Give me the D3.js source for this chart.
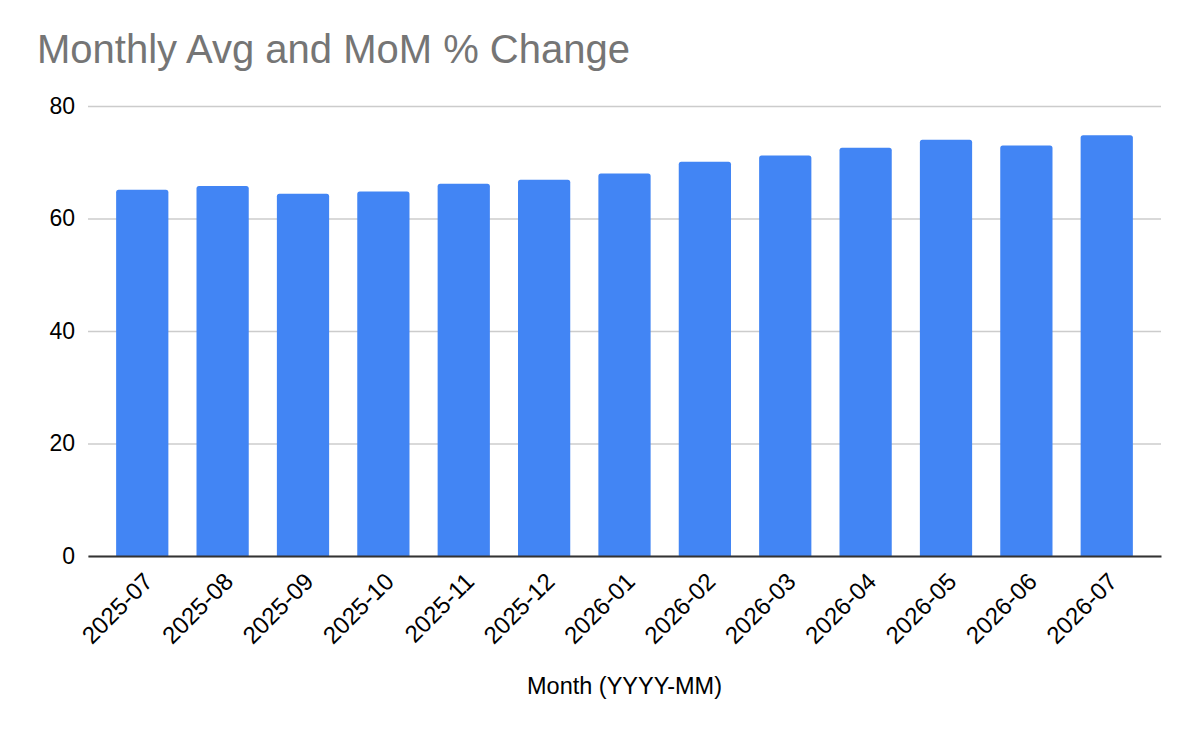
<!DOCTYPE html>
<html lang="en">
<head>
    <meta charset="UTF-8">
    <title>Monthly Avg and MoM % Change</title>
    <script src="https://d3js.org/d3.v7.min.js"></script>
    <style>
        body {
            margin: 0;
            background: #fff;
        }
        svg {
            font-family: "Liberation Sans", Arial, sans-serif;
        }
        .chart-title {
            font-size: 40px;
            fill: #757575;
        }
        .tick-label {
            font-size: 23px;
            fill: #000;
        }
        .x-label {
            font-size: 24px;
            fill: #000;
        }
        .axis-title {
            font-size: 23.5px;
            fill: #000;
        }
        .bar {
            fill: #4285f4;
        }
    </style>
</head>
<body>
    <div id="chart"></div>

    <script>
        // Data
        const months = ["2025-07", "2025-08", "2025-09", "2025-10", "2025-11", "2025-12",
                        "2026-01", "2026-02", "2026-03", "2026-04", "2026-05", "2026-06", "2026-07"];
        const monthlyAvg = [65.1, 65.8, 64.4, 64.8, 66.2, 66.9, 68.0, 70.1, 71.2, 72.6, 74.0, 73.0, 74.8];
        const yTicks = [0, 20, 40, 60, 80];

        const width = 1197, height = 729;
        const plot = { left: 88, right: 1161, top: 106, bottom: 556 };

        const svg = d3.select("#chart")
            .append("svg")
            .attr("width", width)
            .attr("height", height);

        // Title
        svg.append("text")
            .attr("class", "chart-title")
            .attr("x", 37)
            .attr("y", 63)
            .text("Monthly Avg and MoM % Change");

        const x = d3.scaleBand()
            .domain(months)
            .range([plot.left, plot.right])
            .paddingInner(0.35)
            .paddingOuter(0.35);

        const y = d3.scaleLinear()
            .domain([0, 80])
            .range([plot.bottom, plot.top]);

        // Gridlines + y labels
        const yAxis = svg.append("g")
            .attr("transform", `translate(${plot.left},0)`)
            .call(d3.axisLeft(y).tickValues(yTicks).tickSize(-(plot.right - plot.left)).tickPadding(13));
        yAxis.select(".domain").remove();
        yAxis.selectAll(".tick line").attr("stroke", "#cccccc").attr("stroke-width", 1.3);
        yAxis.selectAll(".tick text")
            .attr("class", "tick-label")
            .attr("font-family", null)
            .attr("font-size", null)
            .attr("fill", null);
        yAxis.attr("font-family", null).attr("font-size", null);

        // Bars with slightly rounded tops
        const r = 2.5;
        svg.selectAll(".bar")
            .data(months.map((m, i) => ({ month: m, value: monthlyAvg[i] })))
            .enter().append("path")
            .attr("class", "bar")
            .attr("d", d => {
                const x0 = x(d.month), x1 = x0 + x.bandwidth();
                const y0 = y(d.value), y1 = y(0);
                return `M${x0},${y1}V${y0 + r}Q${x0},${y0} ${x0 + r},${y0}H${x1 - r}Q${x1},${y0} ${x1},${y0 + r}V${y1}Z`;
            });

        // X axis
        const xAxis = svg.append("g")
            .attr("transform", `translate(0,${plot.bottom})`)
            .call(d3.axisBottom(x).tickSize(0).tickSizeOuter(0));
        xAxis.attr("font-family", null).attr("font-size", null);
        xAxis.select(".domain").attr("stroke", "#333333").attr("stroke-width", 2);
        xAxis.selectAll(".tick text")
            .attr("class", "x-label")
            .attr("fill", null)
            .attr("text-anchor", "end")
            .attr("dy", "0.35em")
            .attr("transform", "translate(6,21) rotate(-45)")
            .attr("y", 0)
            .attr("x", 0);

        // X axis title
        svg.append("text")
            .attr("class", "axis-title")
            .attr("x", (plot.left + plot.right) / 2)
            .attr("y", 694)
            .attr("text-anchor", "middle")
            .text("Month (YYYY-MM)");
    </script>
</body>
</html>
